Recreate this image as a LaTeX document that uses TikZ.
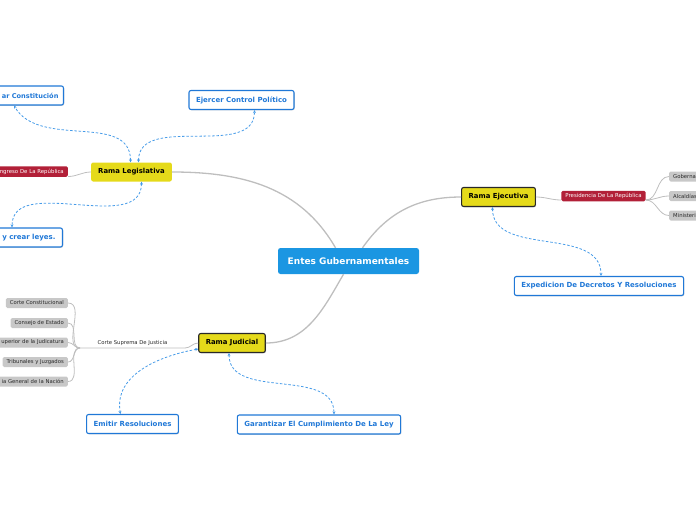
\documentclass[tikz,border=0pt]{standalone}
\usepackage{fontspec}
\setmainfont{DejaVu Sans}
\usepackage{tikz}
\usetikzlibrary{positioning,arrows.meta,shadows}
\definecolor{hubblue}{RGB}{27,150,226}
\definecolor{taskblue}{RGB}{32,120,215}
\definecolor{dashblue}{RGB}{70,155,232}
\definecolor{branchyellow}{RGB}{229,218,26}
\definecolor{officered}{RGB}{178,32,56}
\definecolor{leafgray}{RGB}{200,200,200}
\definecolor{linegray}{RGB}{190,190,190}
\definecolor{inkgray}{RGB}{40,40,40}
\tikzset{
  central-node/.style={fill=hubblue, rounded corners=2.5pt, minimum width=141pt,
    minimum height=26pt, text=white, inner sep=3pt,
    font=\fontsize{9}{10}\selectfont\bfseries},
  branch-node/.style={fill=branchyellow, rounded corners=2pt, minimum height=19pt,
    inner xsep=7pt, font=\fontsize{6.9}{8}\selectfont\bfseries, text=black},
  branch-sel-node/.style={branch-node, draw=inkgray, line width=1.1pt,
    drop shadow={shadow xshift=0.8pt, shadow yshift=-0.8pt, opacity=0.35}},
  task-node/.style={draw=taskblue, line width=1.1pt, fill=white, rounded corners=2pt,
    minimum height=19pt, inner xsep=7pt, text=taskblue,
    font=\fontsize{7}{8}\selectfont\bfseries,
    drop shadow={shadow xshift=0.8pt, shadow yshift=-0.8pt, opacity=0.3}},
  office-node/.style={fill=officered, rounded corners=1.5pt, minimum height=10.5pt,
    inner xsep=4pt, inner ysep=1pt, text=white, font=\fontsize{5.4}{6}\selectfont},
  leaf-node/.style={fill=leafgray, rounded corners=1.5pt, minimum height=10pt,
    inner xsep=4pt, inner ysep=1pt, text=inkgray, font=\fontsize{5.3}{6}\selectfont},
  trunk-line/.style={draw=linegray, line width=1.3pt},
  twig-line/.style={draw=linegray, line width=0.8pt},
  link-arrow/.style={{Stealth[length=3pt,width=3pt]}-{Stealth[length=3pt,width=3pt]},
    draw=dashblue, line width=0.8pt, dash pattern=on 2.5pt off 1.8pt},
  tag-text/.style={font=\fontsize{5.3}{6}\selectfont, text=inkgray, inner sep=1pt}
}
\begin{document}
\begin{tikzpicture}[x=1pt, y=1pt]
\useasboundingbox (0,0) rectangle (696,-520);

% Centre and branches
\node[central-node] (entes) at (348.5,-261) {Entes Gubernamentales};
\node[branch-node] (legis) at (131.5,-172) {Rama Legislativa};
\node[branch-sel-node] (ejec) at (498.5,-197) {Rama Ejecutiva};
\node[branch-sel-node] (judi) at (232,-343) {Rama Judicial};

\draw[trunk-line] ([xshift=-13pt]entes.north) to[out=120, in=0] (legis.east);
\draw[trunk-line] ([xshift=14pt]entes.north) to[out=55, in=180] (ejec.west);
\draw[trunk-line] ([xshift=-5pt]entes.south) to[out=-120, in=0] (judi.east);

% Legislative tasks
\node[task-node, anchor=east, text width=70pt, align=right, inner xsep=5pt,
  font=\fontsize{6.6}{8}\selectfont\bfseries] (reform) at (64,-95.5) {ar Constitución};
\node[task-node] (control) at (241.5,-100) {Ejercer Control Político};
\node[task-node, anchor=east, text width=70pt, align=right] (leyes) at (63,-237.5) {y crear leyes.};
\node[office-node, anchor=east, text width=70pt, align=right] (congreso) at (68,-171.5) {ngreso De La República};

\draw[link-arrow] ([xshift=-1pt]legis.north) to[out=90, in=-60] ([xshift=-50pt]reform.south east);
\draw[link-arrow] ([xshift=7pt]legis.north) to[out=90, in=-90] ([xshift=13pt]control.south);
\draw[link-arrow] ([xshift=10pt]legis.south) to[out=-90, in=90] ([xshift=-51pt]leyes.north east);
\draw[twig-line] (legis.west) to[out=180, in=0] ([yshift=-5pt]congreso.east);

% Executive
\node[office-node] (presid) at (603.5,-196) {Presidencia De La República};
\node[leaf-node, anchor=west, text width=40pt, align=left] (gober) at (669,-176.5) {Goberna};
\node[leaf-node, anchor=west, text width=40pt, align=left] (alcal) at (669,-196) {Alcaldías};
\node[leaf-node, anchor=west, text width=40pt, align=left] (minis) at (669,-215.5) {Ministeri};
\node[task-node] (decretos) at (599,-286) {Expedicion De Decretos Y Resoluciones};

\draw[twig-line] (ejec.east) to[out=0, in=180] ([yshift=-4pt]presid.west);
\draw[twig-line] ([yshift=-4pt]presid.east) to[out=0, in=180] (gober.west);
\draw[twig-line] ([yshift=-4pt]presid.east) to[out=0, in=180] (alcal.west);
\draw[twig-line] ([yshift=-4pt]presid.east) to[out=0, in=180] (minis.west);
\draw[link-arrow] ([xshift=-6pt]ejec.south) to[out=-90, in=90] ([xshift=2pt]decretos.north);

% Judicial
\node[leaf-node, anchor=east] (cconst) at (68,-303) {Corte Constitucional};
\node[leaf-node, anchor=east] (cestado) at (68,-323) {Consejo de Estado};
\node[leaf-node, anchor=east, text width=70pt, align=right] (csup) at (68,-342.5) {uperior de la Judicatura};
\node[leaf-node, anchor=east] (tribu) at (68,-362) {Tribunales y Juzgados};
\node[leaf-node, anchor=east, text width=70pt, align=right] (fisca) at (68,-381.5) {ia General de la Nación};
\node[task-node] (emitir) at (132.5,-424) {Emitir Resoluciones};
\node[task-node] (garant) at (319,-424.5) {Garantizar El Cumplimiento De La Ley};

\coordinate (jknee) at (185,-348);
\coordinate (jhub) at (80,-348);
\draw[twig-line] (judi.west) to[out=180, in=0] (jknee) -- (jhub)
  node[tag-text, midway, above=1pt] (suprema) {Corte Suprema De Justicia};
\foreach \leaf in {cconst,cestado,csup,tribu,fisca}
  \draw[twig-line] (jhub) to[out=180, in=0] (\leaf.east);

\draw[link-arrow] ([yshift=-6pt]judi.west) to[out=190, in=100] ([xshift=-12pt]emitir.north);
\draw[link-arrow] ([xshift=-3pt]judi.south) to[out=-90, in=90] ([xshift=15pt]garant.north);
\end{tikzpicture}
\end{document}
